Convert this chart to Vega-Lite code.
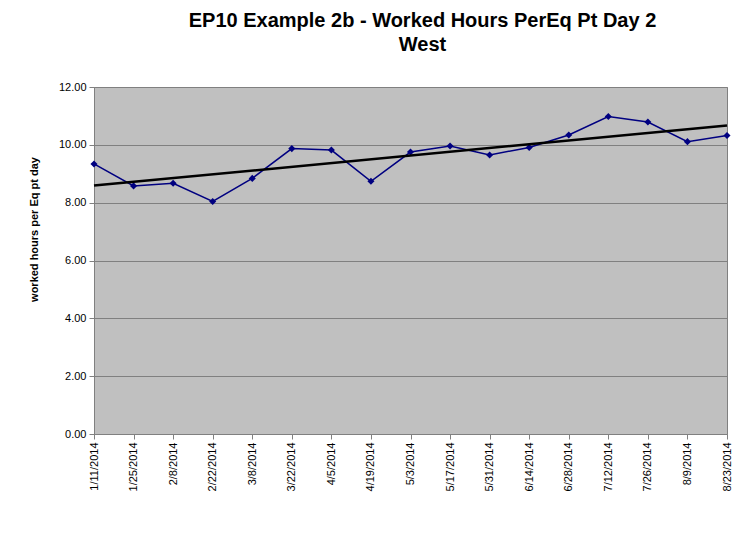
{
  "$schema": "https://vega.github.io/schema/vega-lite/v6.json",
  "autosize": "none",
  "width": 633,
  "height": 347,
  "padding": {"left": 94, "top": 87, "right": 23, "bottom": 106},
  "background": "white",
  "title": {
    "text": ["EP10 Example 2b - Worked Hours PerEq Pt Day 2", "West"],
    "font": "Liberation Sans",
    "fontSize": 20,
    "fontWeight": "bold",
    "color": "black",
    "anchor": "middle",
    "dx": 12,
    "offset": 26,
    "lineHeight": 24
  },
  "data": {
    "values": [
      {"date": "2014-01-11", "hours": 9.34},
      {"date": "2014-01-25", "hours": 8.58},
      {"date": "2014-02-08", "hours": 8.67},
      {"date": "2014-02-22", "hours": 8.04},
      {"date": "2014-03-08", "hours": 8.84},
      {"date": "2014-03-22", "hours": 9.87},
      {"date": "2014-04-05", "hours": 9.82},
      {"date": "2014-04-19", "hours": 8.74},
      {"date": "2014-05-03", "hours": 9.75},
      {"date": "2014-05-17", "hours": 9.96},
      {"date": "2014-05-31", "hours": 9.65},
      {"date": "2014-06-14", "hours": 9.91},
      {"date": "2014-06-28", "hours": 10.34},
      {"date": "2014-07-12", "hours": 10.98},
      {"date": "2014-07-26", "hours": 10.79},
      {"date": "2014-08-09", "hours": 10.11},
      {"date": "2014-08-23", "hours": 10.32}
    ]
  },
  "encoding": {
    "x": {
      "field": "date",
      "type": "temporal",
      "scale": {"type": "utc", "domain": [1389398400000, 1408752000000], "nice": false, "padding": 0},
      "axis": {
        "title": null,
        "values": [1389398400000, 1390608000000, 1391817600000, 1393027200000, 1394236800000, 1395446400000, 1396656000000, 1397865600000, 1399075200000, 1400284800000, 1401494400000, 1402704000000, 1403913600000, 1405123200000, 1406332800000, 1407542400000, 1408752000000],
        "labelExpr": "utcFormat(datum.value, '%-m/%-d/%Y')",
        "labelAngle": -90,
        "labelAlign": "right",
        "labelBaseline": "middle",
        "labelFont": "Liberation Sans",
        "labelFontSize": 11,
        "labelColor": "black",
        "labelPadding": 3,
        "labelOverlap": false,
        "labelBound": false,
        "labelFlush": false,
        "tickSize": 5,
        "tickColor": "#808080",
        "domainColor": "#808080",
        "grid": false
      }
    },
    "y": {
      "field": "hours",
      "type": "quantitative",
      "scale": {"domain": [0, 12], "nice": false, "zero": true},
      "axis": {
        "title": "worked hours per Eq pt day",
        "titleFont": "Liberation Sans",
        "titleFontSize": 11,
        "titleFontWeight": "bold",
        "titleColor": "black",
        "titlePadding": 19,
        "titleY": 142,
        "values": [0, 2, 4, 6, 8, 10, 12],
        "format": ".2f",
        "labelFont": "Liberation Sans",
        "labelFontSize": 11,
        "labelColor": "black",
        "labelPadding": 3,
        "tickSize": 5,
        "tickColor": "#808080",
        "domainColor": "#808080",
        "grid": true,
        "gridColor": "#808080",
        "gridWidth": 1
      }
    }
  },
  "layer": [
    {
      "mark": {"type": "line", "color": "#000080", "strokeWidth": 1.5}
    },
    {
      "mark": {"type": "point", "shape": "diamond", "filled": true, "color": "#000080", "size": 50, "opacity": 1}
    },
    {
      "transform": [
        {"calculate": "toDate(datum.date)", "as": "t"},
        {"regression": "hours", "on": "t", "extent": [1389398400000, 1408752000000]}
      ],
      "mark": {"type": "line", "color": "black", "strokeWidth": 2.5},
      "encoding": {
        "x": {"field": "t", "type": "temporal"},
        "y": {"field": "hours", "type": "quantitative"}
      }
    }
  ],
  "config": {
    "view": {"fill": "#C0C0C0", "stroke": "#808080", "strokeWidth": 1}
  }
}
